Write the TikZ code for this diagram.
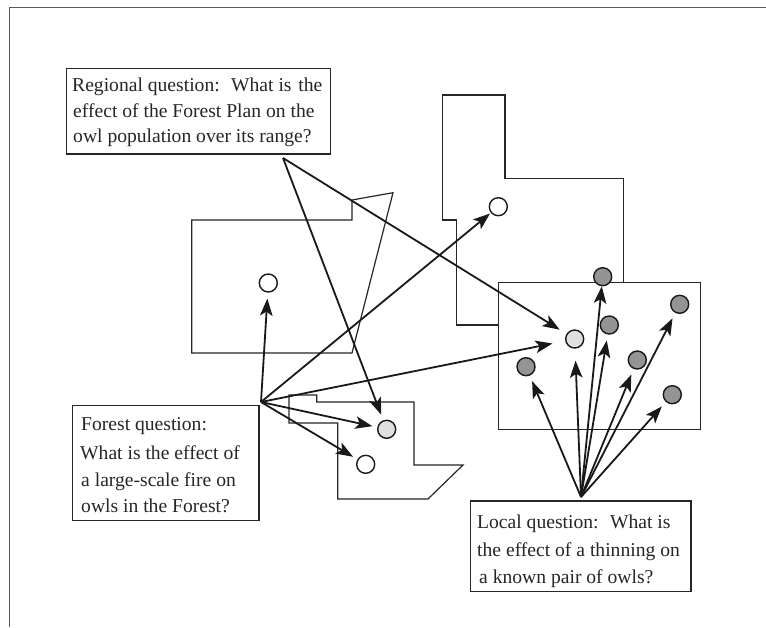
\documentclass[tikz,border=0pt]{standalone}
\usepackage{fontspec}
\setmainfont{Liberation Serif}
\usetikzlibrary{arrows.meta}
\tikzset{
  frameline/.style={draw=black!65,line width=1pt},
  outline/.style={draw=black!85,line width=1.2pt,line join=miter},
  qbox/.style={draw=black!85,line width=1.2pt,inner sep=0pt,outer sep=0pt,anchor=north west,fill=white},
  qtext/.style={anchor=base west,inner sep=0pt,font=\fontsize{19.6}{22}\selectfont,text=black!85},
  site/.style={circle,draw=black!90,line width=1.4pt,minimum size=18pt,inner sep=0pt,fill=white},
  lightsite/.style={site,fill=black!12},
  darksite/.style={site,fill=black!42},
  link/.style={draw=black!90,line width=1.8pt,-{Stealth[length=17pt,width=12.5pt,inset=4pt]}},
}
\begin{document}
\begin{tikzpicture}[x=1pt,y=-1pt]
\useasboundingbox (0,0) rectangle (766,627);
\fill[white] (0,0) rectangle (766,627);
\draw[frameline] (9,627) -- (9,7.5) -- (766,7.5);
% land outlines
\draw[outline] (191.7,220) -- (352,220) -- (352,200) -- (393,192.7) -- (352,353) -- (191.7,353) -- cycle;
\draw[outline] (289,395) -- (316.7,395) -- (316.7,402) -- (414,402) -- (414,465) -- (463,465) -- (428,499) -- (337.7,499) -- (337.7,423) -- (289,423) -- cycle;
\draw[outline] (442.3,95) -- (505,95) -- (505,178.7) -- (623.3,178.7) -- (623.3,282.7) -- (498.3,282.7) -- (498.3,325) -- (456.7,325) -- (456.7,220) -- (442.3,220) -- cycle;
\draw[outline] (498.3,282.7) rectangle (700.3,429.3);
% question boxes
\node[qbox,minimum width=263.6pt,minimum height=85.3pt] (regional) at (66.7,68.7) {};
\node[qbox,minimum width=186.3pt,minimum height=115pt] (forest) at (72.7,405.7) {};
\node[qbox,minimum width=220.7pt,minimum height=90.7pt] (local) at (470.3,501) {};
\node[qtext] (r1) at (72,91) {Regional question:\hspace{0.25em} What is\hspace{0.1em} the};
\node[qtext] (r2) at (73,117) {effect of the Forest Plan on the};
\node[qtext] (r3) at (73,142) {owl population over its range?};
\node[qtext] (f1) at (81,430) {Forest question:};
\node[qtext] (f2) at (80,459) {What is the effect of};
\node[qtext] (f3) at (81,486) {a large-scale fire on};
\node[qtext] (f4) at (81,512) {owls in the Forest?};
\node[qtext] (l1) at (477,528) {Local question:\hspace{0.25em} What is};
\node[qtext] (l2) at (477,556) {the effect of a thinning on};
\node[qtext] (l3) at (479,583) {a known pair of owls?};
% sites
\node[site] (w1) at (268.3,283) {};
\node[site] (w2) at (498.3,206.7) {};
\node[site] (w3) at (365.7,464.3) {};
\node[lightsite] (g1) at (386.7,429.3) {};
\node[lightsite] (g2) at (574.7,339) {};
\node[darksite] (d1) at (602.7,276.7) {};
\node[darksite] (d2) at (679.7,304.3) {};
\node[darksite] (d3) at (609.3,325) {};
\node[darksite] (d4) at (637.3,360) {};
\node[darksite] (d5) at (672.3,394.7) {};
\node[darksite] (d6) at (526,366.7) {};
% connector sources
\coordinate (rs) at (283,158);
\coordinate (fs) at (261,402);
\coordinate (ls) at (581,497);
% connectors
\draw[link,shorten >=6pt] (fs) -- (w1);
\draw[link,shorten >=1pt] (fs) -- (w2);
\draw[link,shorten >=5pt] (fs) -- (g1);
\draw[link,shorten >=5pt] (fs) -- (w3);
\draw[link,shorten >=13pt] (fs) -- (g2);
\draw[link,shorten >=6pt] (rs) -- (g1);
\draw[link,shorten >=8pt] (rs) -- (g2);
\draw[link,shorten >=6pt] (ls) -- (d6);
\draw[link,shorten >=12pt] (ls) -- (g2);
\draw[link,shorten >=0pt] (ls) -- (d1);
\draw[link,shorten >=6pt] (ls) -- (d3);
\draw[link,shorten >=6pt] (ls) -- (d4);
\draw[link,shorten >=6pt] (ls) -- (d2);
\draw[link,shorten >=6pt] (ls) -- (d5);
\end{tikzpicture}
\end{document}
